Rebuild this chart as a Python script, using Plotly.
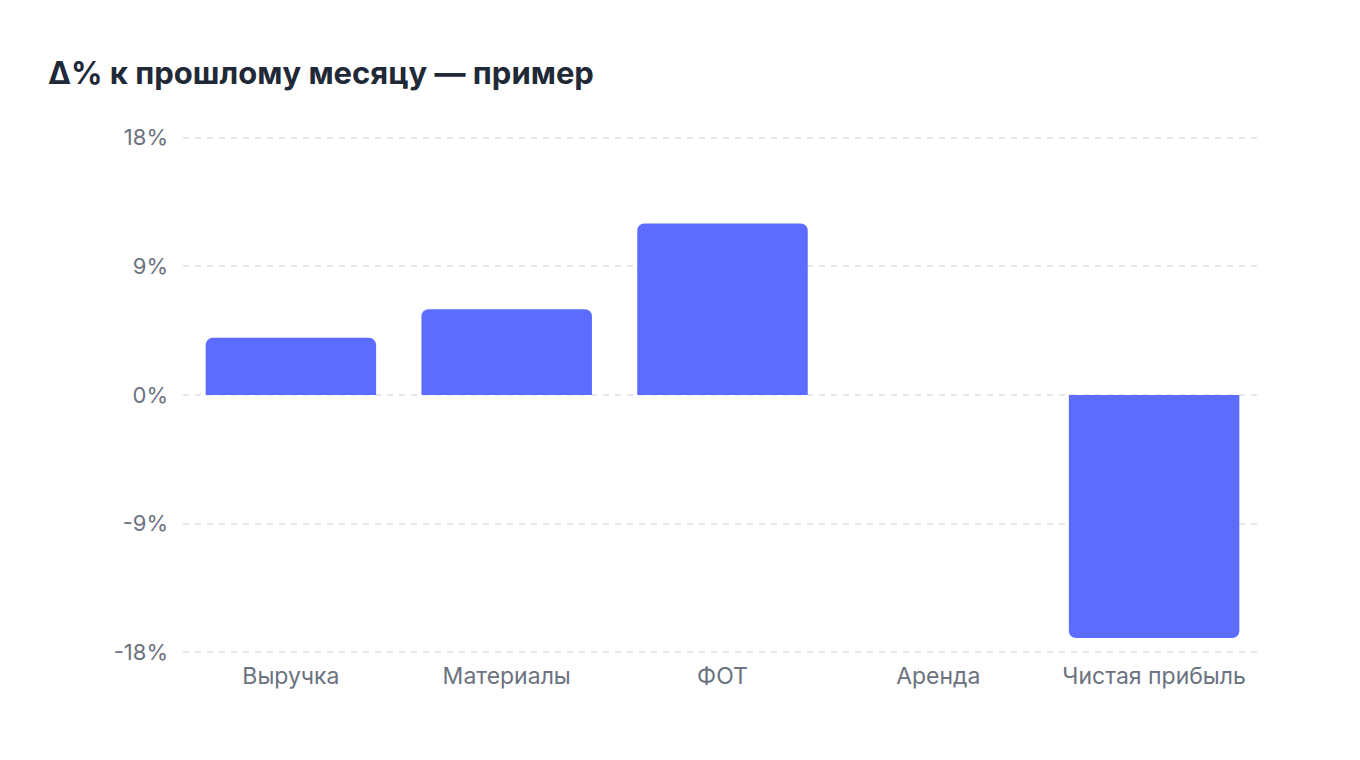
import plotly.graph_objects as go

categories = ["Выручка", "Материалы", "ФОТ", "Аренда", "Чистая прибыль"]
delta_pct = [4, 6, 12, 0, -17]
tick_vals = [-18, -9, 0, 9, 18]
tick_text = ["-18%", "-9%", "0%", "9%", "18%"]

fig = go.Figure()
fig.add_trace(go.Bar(
    x=categories,
    y=delta_pct,
    marker=dict(color="#5b6cff", line=dict(width=0)),
    hoverinfo="x+y",
))

fig.update_layout(
    width=1360, height=760,
    paper_bgcolor="white", plot_bgcolor="white",
    font=dict(family="Inter", color="#6b7280"),
    title=dict(
        text="<b>Δ% к прошлому месяцу — пример</b>",
        x=40 / 1360, xanchor="left", y=1 - 65 / 760, yanchor="middle",
        font=dict(family="Inter", size=31, color="#1f2937"),
    ),
    margin=dict(l=175, r=106, t=124, b=110),
    bargap=0.21,
    barcornerradius=7,
    showlegend=False,
)
fig.update_xaxes(
    showgrid=False, showline=False, ticks="",
    tickfont=dict(size=23, color="#6b7280"),
    ticklabelstandoff=2,
)
fig.update_yaxes(
    range=[-18.4, 18.4], tickvals=tick_vals, ticktext=tick_text,
    showgrid=True, gridcolor="#e5e7eb", griddash="6px,6px", gridwidth=1.5,
    zeroline=False, showline=False, ticks="",
    tickfont=dict(size=22, color="#6b7280"),
    ticklabelstandoff=14,
)

fig.write_html("out.html")
